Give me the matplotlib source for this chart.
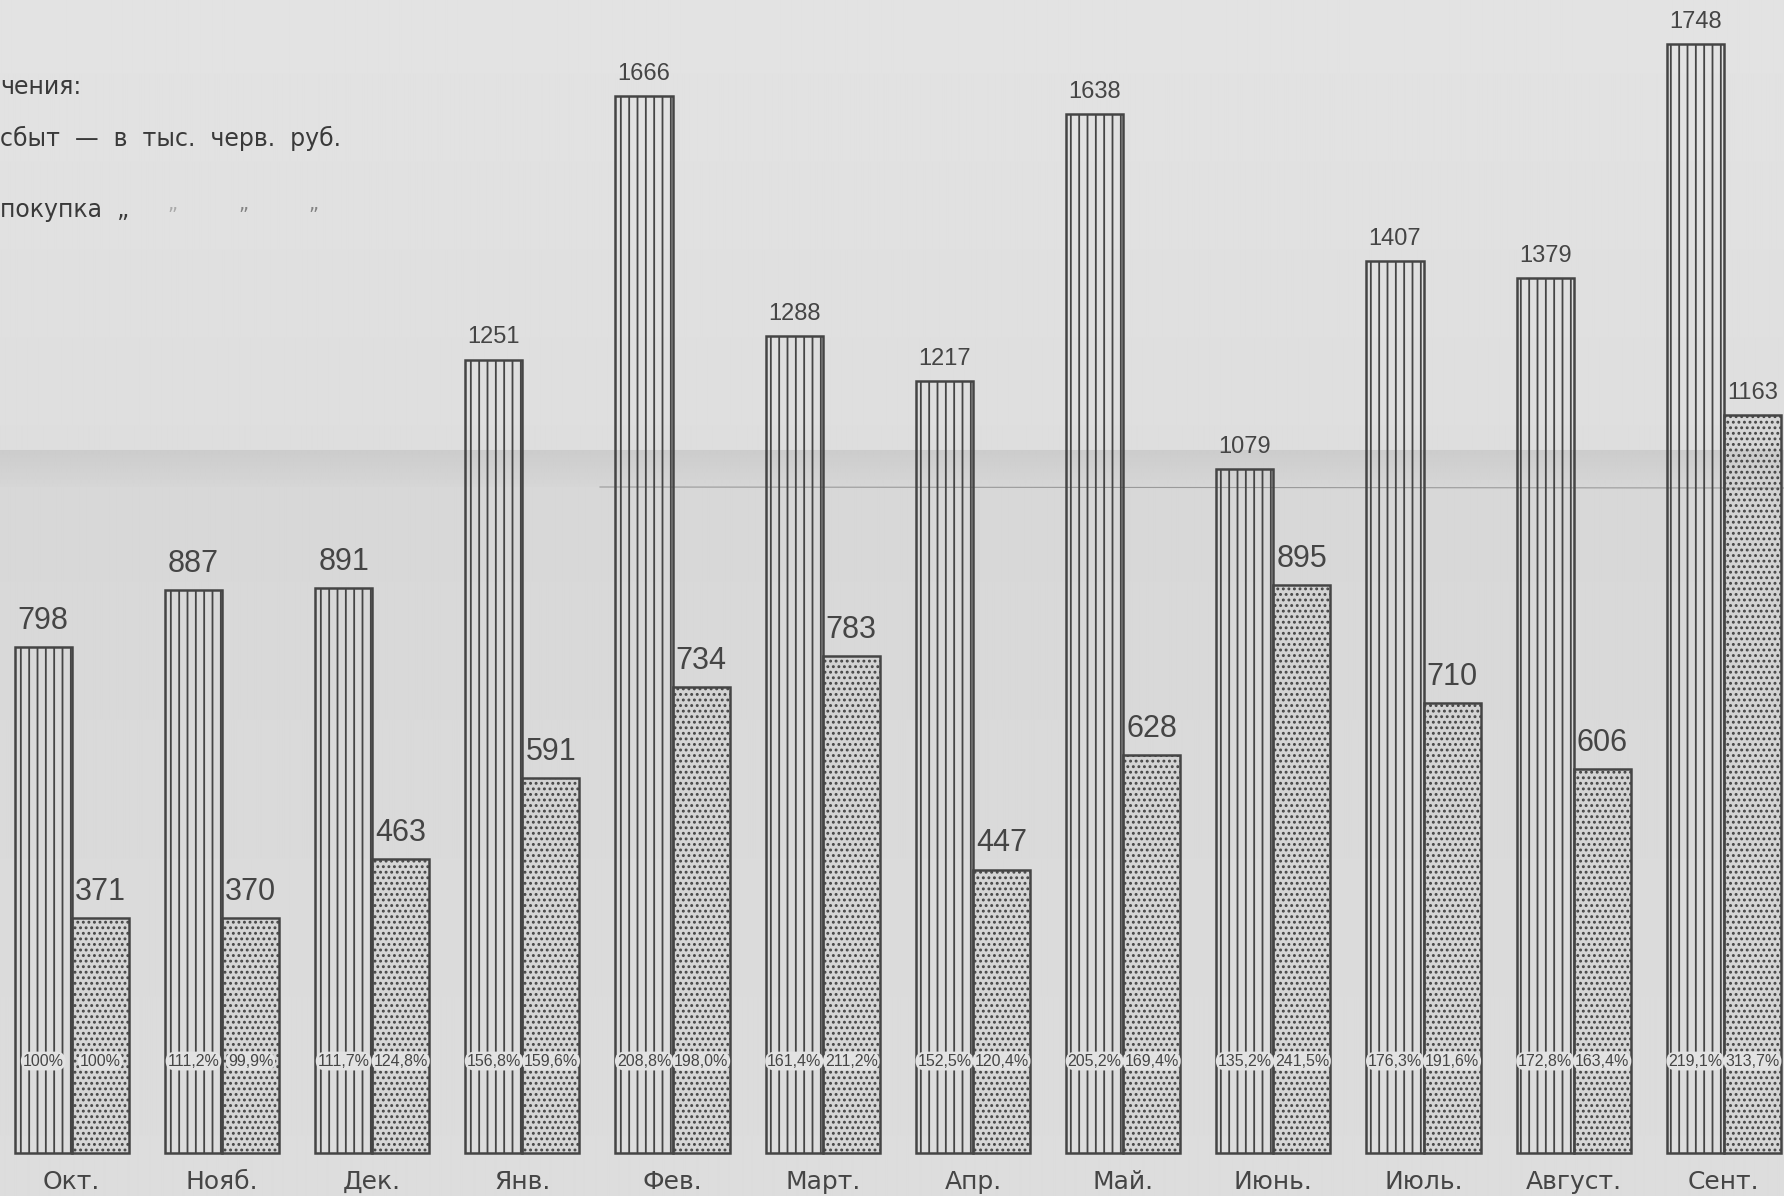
import numpy as np
import matplotlib
matplotlib.use("Agg")
import matplotlib.pyplot as plt

# Данные (в тыс. черв. руб.)
months = ["Окт.", "Нояб.", "Дек.", "Янв.", "Фев.", "Март.", "Апр.",
          "Май.", "Июнь.", "Июль.", "Август.", "Сент."]
sbyt = [798, 887, 891, 1251, 1666, 1288, 1217, 1638, 1079, 1407, 1379, 1748]
pokupka = [371, 370, 463, 591, 734, 783, 447, 628, 895, 710, 606, 1163]
sbyt_pct = ["100%", "111,2%", "111,7%", "156,8%", "208,8%", "161,4%", "152,5%",
            "205,2%", "135,2%", "176,3%", "172,8%", "219,1%"]
pokupka_pct = ["100%", "99,9%", "124,8%", "159,6%", "198,0%", "211,2%", "120,4%",
               "169,4%", "241,5%", "191,6%", "163,4%", "313,7%"]

INK = "#454545"
NARROW = ["Liberation Sans Narrow", "Liberation Sans", "DejaVu Sans"]

plt.rcParams["hatch.linewidth"] = 1.3

W, H = 1784, 1196
fig = plt.figure(figsize=(W / 100, H / 100), dpi=100)

# фон: бумага со сгибом
bg = fig.add_axes([0, 0, 1, 1])
rows = np.arange(H)
shade = np.full(H, 0.875)
shade[rows < 450] = 0.89 - 0.02 * rows[rows < 450] / 450
band = (rows >= 450) & (rows < 487)
shade[band] = 0.80 + 0.04 * (rows[band] - 450) / 37
shade[rows >= 487] = 0.845 + 0.02 * (rows[rows >= 487] - 487) / (H - 487)
img = np.tile(shade[:, None], (1, 40))
bg.imshow(img, cmap="gray", vmin=0, vmax=1, aspect="auto",
          extent=[0, W, H, 0], interpolation="bilinear")
bg.plot([600, W], [487, 488], color="#9a9a9a", linewidth=0.8)
bg.set_xlim(0, W)
bg.set_ylim(H, 0)
bg.axis("off")

ax = fig.add_axes([0, 1 - 1153 / H, 1, 1153 / H])
ax.patch.set_alpha(0)
x = np.arange(len(months))
w = 0.38
ax.bar(x - w / 2, sbyt, width=w, facecolor="none", edgecolor=INK,
       linewidth=1.8, hatch="||", clip_on=False)
ax.bar(x + w / 2, pokupka, width=w, facecolor=(0.80, 0.80, 0.80, 0.4),
       edgecolor=INK, linewidth=1.8, hatch="...", clip_on=False)
ax.set_xlim(-0.478, 11.40)
ax.set_ylim(0, 1818)
ax.axis("off")

# подписи значений
for xs, vals in [(x - w / 2, sbyt), (x + w / 2, pokupka)]:
    for xi, v in zip(xs, vals):
        ax.annotate(str(v), (xi, v), xytext=(0, 8), textcoords="offset points",
                    ha="center", va="bottom", family=NARROW,
                    fontsize=17 if v >= 1000 else 22, color=INK)

# проценты внутри столбцов
for xs, labels in [(x - w / 2, sbyt_pct), (x + w / 2, pokupka_pct)]:
    for xi, s in zip(xs, labels):
        ax.text(xi, 145, s, ha="center", va="center", family=NARROW,
                fontsize=11.5, color=INK,
                bbox=dict(boxstyle="round,pad=0.12,rounding_size=0.6",
                          fc="#e2e2e2", ec="none"))

# месяцы
for xi, m in zip(x, months):
    ax.annotate(m, (xi, 0), xytext=(0, -21), textcoords="offset points",
                ha="center", va="center", fontsize=18, color=INK,
                annotation_clip=False)

# условные обозначения (обрезаны слева)
fig.text(0, 1 - 87 / H, "чения:", ha="left", va="center", fontsize=17,
         color="#3a3a3a")
fig.text(0, 1 - 138 / H, "сбыт  —  в  тыс.  черв.  руб.", ha="left",
         va="center", fontsize=17, color="#3a3a3a")
fig.text(0, 1 - 210 / H, "покупка  „", ha="left", va="center", fontsize=17,
         color="#3a3a3a")
for px, a in [(172, 0.35), (243, 0.6), (313, 0.6)]:
    fig.text(px / W, 1 - 205 / H, "„", ha="center", va="center",
             fontsize=14, color=INK, alpha=a)

fig.savefig("out.png", dpi=100)
